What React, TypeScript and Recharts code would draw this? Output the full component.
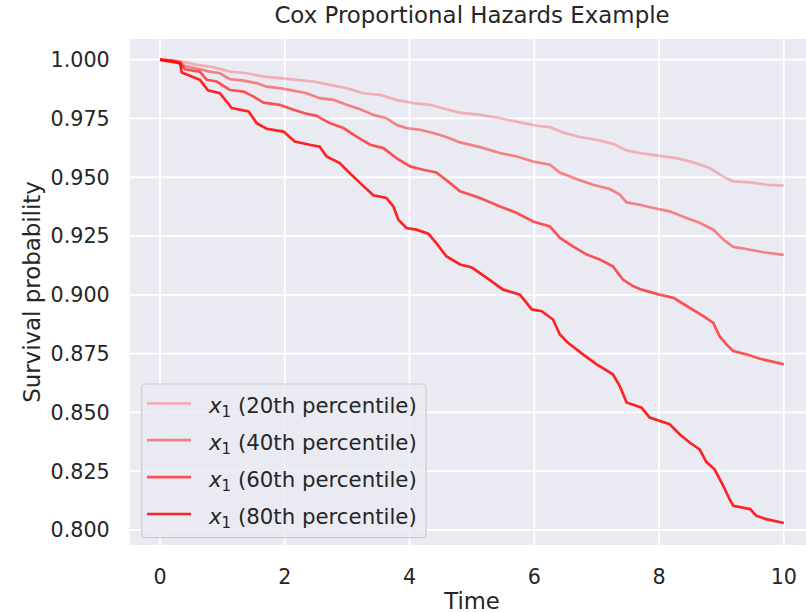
import React from "react";
import { LineChart, Line, XAxis, YAxis, CartesianGrid } from "recharts";

// survival curves: [time, survival probability]
const pct20: [number, number][] = [
  [0, 1], [0.3, 0.9995], [0.59, 0.9978], [0.85, 0.9968], [1.12, 0.9949], [1.39, 0.9942],
  [1.66, 0.9928], [1.92, 0.9921], [2.19, 0.9914], [2.46, 0.9907], [2.72, 0.9893], [2.99, 0.9879],
  [3.26, 0.9857], [3.53, 0.985], [3.79, 0.9829], [4.06, 0.9815], [4.33, 0.9808], [4.59, 0.9789],
  [4.81, 0.9775], [5.13, 0.9765], [5.45, 0.9751], [5.77, 0.9733], [6.04, 0.9719], [6.25, 0.9713],
  [6.46, 0.969], [6.73, 0.9671], [7.05, 0.9656], [7.26, 0.9642], [7.48, 0.9614], [7.75, 0.96],
  [8.01, 0.9591], [8.28, 0.9581], [8.55, 0.9563], [8.81, 0.9539], [9.03, 0.9503], [9.19, 0.9482],
  [9.46, 0.9478], [9.72, 0.9468], [10, 0.9464],
];

const pct40: [number, number][] = [
  [0, 1], [0.2, 0.9996], [0.32, 0.999], [0.4, 0.9973], [0.64, 0.9959], [0.8, 0.9949],
  [0.96, 0.9942], [1.12, 0.9917], [1.34, 0.9911], [1.55, 0.99], [1.71, 0.9885], [1.92, 0.9879],
  [2.14, 0.9868], [2.35, 0.9857], [2.56, 0.9836], [2.78, 0.9829], [2.99, 0.9808], [3.21, 0.9789],
  [3.42, 0.9765], [3.63, 0.9751], [3.79, 0.9723], [3.95, 0.9709], [4.17, 0.9702], [4.38, 0.9688],
  [4.59, 0.9671], [4.81, 0.9648], [5.13, 0.9628], [5.45, 0.9603], [5.72, 0.9588], [5.98, 0.9567],
  [6.25, 0.9553], [6.41, 0.952], [6.68, 0.9492], [6.94, 0.9468], [7.21, 0.945], [7.37, 0.9426],
  [7.48, 0.9393], [7.69, 0.9383], [7.91, 0.9369], [8.17, 0.9355], [8.44, 0.9327], [8.65, 0.9306],
  [8.87, 0.9277], [9.03, 0.9235], [9.19, 0.9204], [9.4, 0.9195], [9.67, 0.9181], [10, 0.917],
];

const pct60: [number, number][] = [
  [0, 1], [0.2, 0.9995], [0.32, 0.9985], [0.4, 0.9959], [0.64, 0.9949], [0.75, 0.9914],
  [0.91, 0.9907], [1.12, 0.9871], [1.34, 0.9864], [1.5, 0.9843], [1.66, 0.9817], [1.92, 0.9808],
  [2.14, 0.9787], [2.32, 0.9772], [2.51, 0.9761], [2.72, 0.973], [2.94, 0.9709], [3.15, 0.9673],
  [3.37, 0.9638], [3.58, 0.9624], [3.79, 0.9581], [4.01, 0.9546], [4.22, 0.9532], [4.43, 0.952],
  [4.65, 0.9475], [4.81, 0.944], [5.13, 0.9412], [5.45, 0.9376], [5.72, 0.9348], [5.98, 0.9312],
  [6.25, 0.9291], [6.41, 0.9242], [6.62, 0.9206], [6.84, 0.9171], [7.05, 0.915], [7.26, 0.9121],
  [7.42, 0.9065], [7.59, 0.9036], [7.72, 0.9022], [8.01, 0.9001], [8.23, 0.8987], [8.49, 0.8945],
  [8.71, 0.8909], [8.87, 0.8881], [8.97, 0.8824], [9.08, 0.8789], [9.19, 0.8761], [9.4, 0.8747],
  [9.62, 0.8728], [9.78, 0.8718], [10, 0.8705],
];

const pct80: [number, number][] = [
  [0, 1], [0.1, 0.9995], [0.2, 0.999], [0.32, 0.9985], [0.35, 0.9945], [0.64, 0.9914],
  [0.77, 0.987], [0.96, 0.9857], [1.15, 0.9794], [1.42, 0.978], [1.55, 0.973], [1.71, 0.9706],
  [1.98, 0.9694], [2.16, 0.9652], [2.4, 0.9638], [2.56, 0.963], [2.67, 0.9588], [2.88, 0.956],
  [3.04, 0.9518], [3.21, 0.9475], [3.42, 0.9423], [3.63, 0.9412], [3.74, 0.9376], [3.82, 0.932],
  [3.95, 0.9284], [4.11, 0.9277], [4.3, 0.926], [4.43, 0.922], [4.59, 0.9164], [4.81, 0.9129],
  [5.0, 0.9116], [5.25, 0.907], [5.5, 0.9022], [5.77, 0.9001], [5.96, 0.8938], [6.12, 0.893],
  [6.3, 0.8895], [6.41, 0.8831], [6.54, 0.8796], [6.78, 0.8747], [7.0, 0.8704], [7.26, 0.8662],
  [7.37, 0.8612], [7.48, 0.8542], [7.72, 0.852], [7.85, 0.8478], [8.17, 0.845], [8.33, 0.8407],
  [8.49, 0.8372], [8.65, 0.8343], [8.76, 0.8289], [8.89, 0.8258], [9.03, 0.8188], [9.13, 0.8131],
  [9.19, 0.8103], [9.46, 0.8089], [9.56, 0.806], [9.72, 0.8046], [10, 0.803],
];

const seriesNames = ["20th", "40th", "60th", "80th"];
const seriesOpacity = [0.25, 0.45, 0.65, 0.85];
const curves = [pct20, pct40, pct60, pct80];

const xTicks = [0, 2, 4, 6, 8, 10];
const yTicks = [0.8, 0.825, 0.85, 0.875, 0.9, 0.925, 0.95, 0.975, 1.0];

const FONT = "DejaVu Sans";
const TEXT = "#262626";

const toRows = (pts: [number, number][]) => pts.map(([t, s]) => ({ t, s }));

export default function App() {
  return (
    <div style={{ position: "absolute", left: 0, top: 0, width: 806, height: 613, overflow: "hidden", background: "#fff" }}>
      <LineChart
        width={830}
        height={613}
        margin={{ top: 38, right: 15, bottom: 0, left: 0 }}
        style={{ fontFamily: FONT }}
      >
        <CartesianGrid fill="#EAEAF2" stroke="#ffffff" strokeWidth={1.8} />
        <XAxis
          dataKey="t"
          type="number"
          domain={[-0.5, 10.5]}
          ticks={xTicks}
          height={67}
          axisLine={false}
          tickLine={false}
          tickSize={0}
          tickMargin={23}
          tick={{ fill: TEXT, fontSize: 20.7, fontFamily: FONT }}
          allowDataOverflow
        />
        <YAxis
          type="number"
          domain={[0.7932, 1.0092]}
          ticks={yTicks}
          width={128.8}
          axisLine={false}
          tickLine={false}
          tickSize={0}
          tickMargin={19}
          tickFormatter={(v: number) => v.toFixed(3)}
          tick={{ fill: TEXT, fontSize: 20.7, fontFamily: FONT }}
          allowDataOverflow
        />
        {curves.map((c, i) => (
          <Line
            key={seriesNames[i]}
            data={toRows(c)}
            dataKey="s"
            type="linear"
            stroke="#ff0000"
            strokeOpacity={seriesOpacity[i]}
            strokeWidth={2.7}
            dot={false}
            activeDot={false}
            isAnimationActive={false}
          />
        ))}
      </LineChart>

      {/* title, axis labels and legend */}
      <svg width={806} height={613} style={{ position: "absolute", left: 0, top: 0, pointerEvents: "none" }}>
        <text x={472} y={22.7} textAnchor="middle" fontSize={22.9} fontFamily={FONT} fill={TEXT}>
          Cox Proportional Hazards Example
        </text>
        <text x={472} y={609} textAnchor="middle" fontSize={22.7} fontFamily={FONT} fill={TEXT}>
          Time
        </text>
        <text
          transform="translate(40,292) rotate(-90)"
          textAnchor="middle"
          fontSize={22.9}
          fontFamily={FONT}
          fill={TEXT}
        >
          Survival probability
        </text>

        <rect x={141.7} y={384} width={284.3} height={153.7} rx={4} fill="#EAEAF2" fillOpacity={0.8} stroke="#cccccc" strokeWidth={1.2} />
        {seriesNames.map((n, i) => {
          const cy = 403.3 + i * 36.9;
          return (
            <g key={n}>
              <line x1={147} x2={191} y1={cy} y2={cy} stroke="#ff0000" strokeOpacity={seriesOpacity[i]} strokeWidth={2.7} />
              <text x={209} y={cy + 9.5} fontSize={21.3} fontFamily={FONT} fill={TEXT}>
                <tspan fontStyle="italic">x</tspan>
                <tspan fontSize={15} dy={4}>1</tspan>
                <tspan dy={-4}>{` (${n} percentile)`}</tspan>
              </text>
            </g>
          );
        })}
      </svg>
    </div>
  );
}
